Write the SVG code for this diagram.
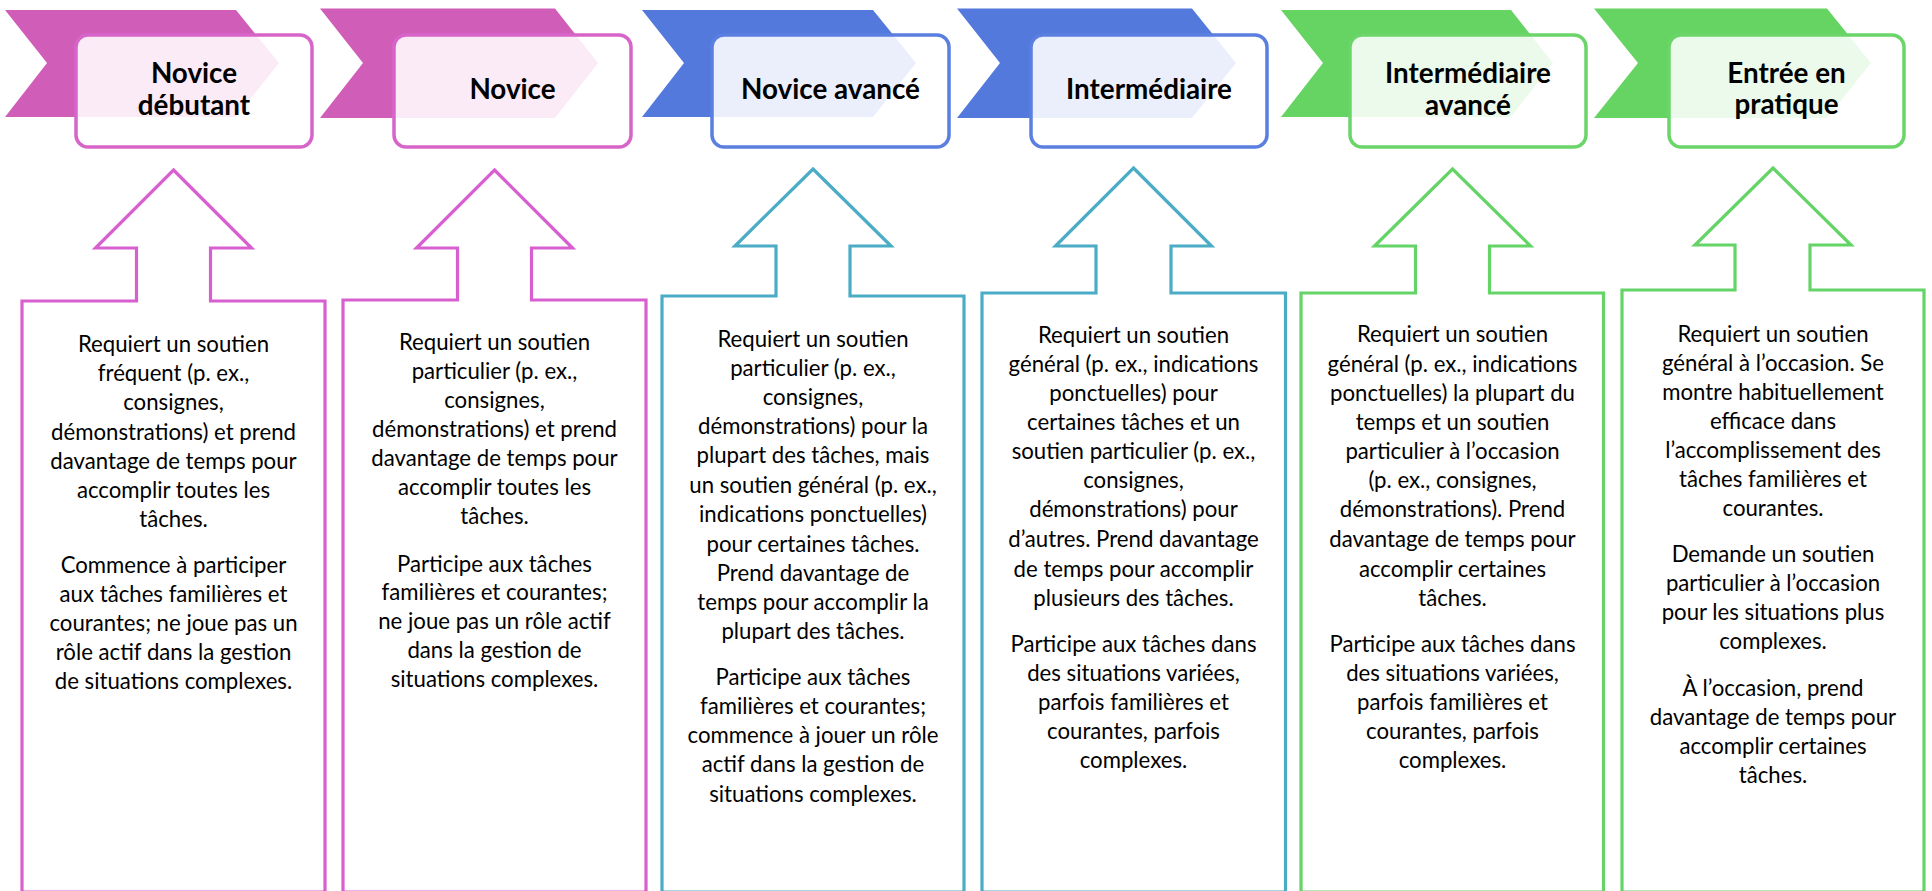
<svg xmlns="http://www.w3.org/2000/svg" width="1932" height="891" viewBox="0 0 1932 891">
<style>
.bg{fill:#ffffff}
.chev{stroke:none}
.mag{fill:#D05EB8}
.blu{fill:#5479DD}
.grn{fill:#65D463}
.hbox{fill:#ffffff;fill-opacity:0.88;stroke-width:3.5}
.hb-mag{stroke:#D765C9}
.hb-blu{stroke:#5A7FE0}
.hb-grn{stroke:#6BD569}
.arrow{fill:#ffffff;stroke-width:3.2;stroke-linejoin:miter}
.ar-mag{stroke:#D75FD0}
.ar-tea{stroke:#4BACC6}
.ar-grn{stroke:#65D467}
.ht{font-family:Lato,"Liberation Sans",sans-serif;font-weight:bold;font-size:27.8px;fill:#000;text-anchor:middle}
.bt{font-family:Lato,"Liberation Sans",sans-serif;font-size:22.2px;fill:#000;text-anchor:middle}
</style>
<rect class="bg" x="0" y="0" width="1932" height="891"/>

<g id="stage-1">
<polygon class="chev mag" points="5,10 236,10 279,63 236,117 5,117 47,63"/>
<rect class="hbox hb-mag" x="76" y="35" width="236" height="112" rx="12"/>
<text class="ht"><tspan x="194" y="83">Novice</tspan><tspan x="194" y="115">débutant</tspan></text>
<path class="arrow ar-mag" d="M173.5,170 L251.5,248 L210.5,248 L210.5,301 L325,301 L325,892 L22,892 L22,301 L136.5,301 L136.5,248 L95.5,248 Z"/>
<text class="bt"><tspan x="173.5" y="352">Requiert un soutien</tspan><tspan x="173.5" y="381">fréquent (p. ex.,</tspan><tspan x="173.5" y="410">consignes,</tspan><tspan x="173.5" y="440">démonstrations) et prend</tspan><tspan x="173.5" y="469">davantage de temps pour</tspan><tspan x="173.5" y="498">accomplir toutes les</tspan><tspan x="173.5" y="527">tâches.</tspan><tspan x="173.5" y="573">Commence à participer</tspan><tspan x="173.5" y="602">aux tâches familières et</tspan><tspan x="173.5" y="631">courantes; ne joue pas un</tspan><tspan x="173.5" y="660">rôle actif dans la gestion</tspan><tspan x="173.5" y="689">de situations complexes.</tspan></text>
</g>

<g id="stage-2">
<polygon class="chev mag" points="320,8.5 555,8.5 598,63 555,118 320,118 363,63" stroke="#4F7BDB" stroke-width="2.5"/>
<rect class="hbox hb-mag" x="394" y="35" width="237" height="112" rx="12"/>
<text class="ht"><tspan x="512.5" y="99">Novice</tspan></text>
<path class="arrow ar-mag" d="M494.5,170 L572.5,248 L531.5,248 L531.5,300 L646,300 L646,892 L343,892 L343,300 L457.5,300 L457.5,248 L416.5,248 Z"/>
<text class="bt"><tspan x="494.5" y="350">Requiert un soutien</tspan><tspan x="494.5" y="379">particulier (p. ex.,</tspan><tspan x="494.5" y="408">consignes,</tspan><tspan x="494.5" y="437">démonstrations) et prend</tspan><tspan x="494.5" y="466">davantage de temps pour</tspan><tspan x="494.5" y="495">accomplir toutes les</tspan><tspan x="494.5" y="524">tâches.</tspan><tspan x="494.5" y="572">Participe aux tâches</tspan><tspan x="494.5" y="600">familières et courantes;</tspan><tspan x="494.5" y="629">ne joue pas un rôle actif</tspan><tspan x="494.5" y="658">dans la gestion de</tspan><tspan x="494.5" y="687">situations complexes.</tspan></text>
</g>

<g id="stage-3">
<polygon class="chev blu" points="642,10 873,10 916,63 873,117 642,117 684,63"/>
<rect class="hbox hb-blu" x="712" y="35" width="237" height="112" rx="12"/>
<text class="ht"><tspan x="830.5" y="99">Novice avancé</tspan></text>
<path class="arrow ar-tea" d="M813,169 L891,246 L850,246 L850,296 L964,296 L964,892 L662,892 L662,296 L776,296 L776,246 L735,246 Z"/>
<text class="bt"><tspan x="813" y="347">Requiert un soutien</tspan><tspan x="813" y="376">particulier (p. ex.,</tspan><tspan x="813" y="405">consignes,</tspan><tspan x="813" y="434">démonstrations) pour la</tspan><tspan x="813" y="463">plupart des tâches, mais</tspan><tspan x="813" y="493">un soutien général (p. ex.,</tspan><tspan x="813" y="522">indications ponctuelles)</tspan><tspan x="813" y="552">pour certaines tâches.</tspan><tspan x="813" y="581">Prend davantage de</tspan><tspan x="813" y="610">temps pour accomplir la</tspan><tspan x="813" y="639">plupart des tâches.</tspan><tspan x="813" y="685">Participe aux tâches</tspan><tspan x="813" y="714">familières et courantes;</tspan><tspan x="813" y="743">commence à jouer un rôle</tspan><tspan x="813" y="772">actif dans la gestion de</tspan><tspan x="813" y="802">situations complexes.</tspan></text>
</g>

<g id="stage-4">
<polygon class="chev blu" points="957,8.5 1192,8.5 1236,63 1192,118 957,118 1000,63" stroke="#65D463" stroke-width="2.5"/>
<rect class="hbox hb-blu" x="1031" y="35" width="236" height="112" rx="12"/>
<text class="ht"><tspan x="1149" y="99">Intermédiaire</tspan></text>
<path class="arrow ar-tea" d="M1133.5,168 L1211.5,246 L1171,246 L1171,293 L1285.5,293 L1285.5,892 L982,892 L982,293 L1096,293 L1096,246 L1055.5,246 Z"/>
<text class="bt"><tspan x="1133.5" y="343">Requiert un soutien</tspan><tspan x="1133.5" y="372">général (p. ex., indications</tspan><tspan x="1133.5" y="401">ponctuelles) pour</tspan><tspan x="1133.5" y="430">certaines tâches et un</tspan><tspan x="1133.5" y="459">soutien particulier (p. ex.,</tspan><tspan x="1133.5" y="488">consignes,</tspan><tspan x="1133.5" y="517">démonstrations) pour</tspan><tspan x="1133.5" y="547">d’autres. Prend davantage</tspan><tspan x="1133.5" y="577">de temps pour accomplir</tspan><tspan x="1133.5" y="606">plusieurs des tâches.</tspan><tspan x="1133.5" y="652">Participe aux tâches dans</tspan><tspan x="1133.5" y="681">des situations variées,</tspan><tspan x="1133.5" y="710">parfois familières et</tspan><tspan x="1133.5" y="739">courantes, parfois</tspan><tspan x="1133.5" y="768">complexes.</tspan></text>
</g>

<g id="stage-5">
<polygon class="chev grn" points="1281,10 1511,10 1553,63 1511,117 1281,117 1323,63"/>
<rect class="hbox hb-grn" x="1350" y="35" width="236" height="112" rx="12"/>
<text class="ht"><tspan x="1468" y="83">Intermédiaire</tspan><tspan x="1468" y="115">avancé</tspan></text>
<path class="arrow ar-grn" d="M1452.5,169 L1530.5,246 L1489.5,246 L1489.5,293 L1603.5,293 L1603.5,892 L1301,892 L1301,293 L1415.5,293 L1415.5,246 L1374.5,246 Z"/>
<text class="bt"><tspan x="1452.5" y="342">Requiert un soutien</tspan><tspan x="1452.5" y="372">général (p. ex., indications</tspan><tspan x="1452.5" y="401">ponctuelles) la plupart du</tspan><tspan x="1452.5" y="430">temps et un soutien</tspan><tspan x="1452.5" y="459">particulier à l’occasion</tspan><tspan x="1452.5" y="488">(p. ex., consignes,</tspan><tspan x="1452.5" y="517">démonstrations). Prend</tspan><tspan x="1452.5" y="547">davantage de temps pour</tspan><tspan x="1452.5" y="577">accomplir certaines</tspan><tspan x="1452.5" y="606">tâches.</tspan><tspan x="1452.5" y="652">Participe aux tâches dans</tspan><tspan x="1452.5" y="681">des situations variées,</tspan><tspan x="1452.5" y="710">parfois familières et</tspan><tspan x="1452.5" y="739">courantes, parfois</tspan><tspan x="1452.5" y="768">complexes.</tspan></text>
</g>

<g id="stage-6">
<polygon class="chev grn" points="1594,8.5 1827,8.5 1871,63 1827,118 1594,118 1638,63" stroke="#FFFF00" stroke-width="2.5"/>
<rect class="hbox hb-grn" x="1669" y="35" width="235" height="112" rx="12"/>
<text class="ht"><tspan x="1786.5" y="83">Entrée en</tspan><tspan x="1786.5" y="114">pratique</tspan></text>
<path class="arrow ar-grn" d="M1773,168 L1851,245 L1810,245 L1810,290 L1924,290 L1924,892 L1622,892 L1622,290 L1735,290 L1735,245 L1695,245 Z"/>
<text class="bt"><tspan x="1773" y="342">Requiert un soutien</tspan><tspan x="1773" y="371">général à l’occasion. Se</tspan><tspan x="1773" y="400">montre habituellement</tspan><tspan x="1773" y="429">efficace dans</tspan><tspan x="1773" y="458">l’accomplissement des</tspan><tspan x="1773" y="487">tâches familières et</tspan><tspan x="1773" y="516">courantes.</tspan><tspan x="1773" y="562">Demande un soutien</tspan><tspan x="1773" y="591">particulier à l’occasion</tspan><tspan x="1773" y="620">pour les situations plus</tspan><tspan x="1773" y="649">complexes.</tspan><tspan x="1773" y="696">À l’occasion, prend</tspan><tspan x="1773" y="725">davantage de temps pour</tspan><tspan x="1773" y="754">accomplir certaines</tspan><tspan x="1773" y="783">tâches.</tspan></text>
</g>

<g id="connectors"/>
</svg>
